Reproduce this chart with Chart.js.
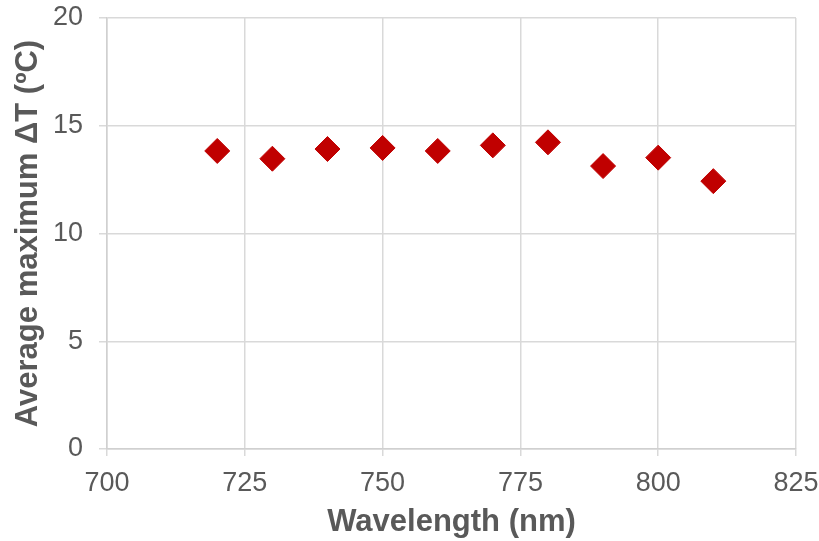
<!DOCTYPE html>
<html>
<head>
<meta charset="utf-8">
<script src="https://cdn.jsdelivr.net/npm/chart.js@4"></script>
<style>
  html, body { margin: 0; padding: 0; background: #fff; }
  #wrap { width: 819px; height: 541px; }
</style>
</head>
<body>
<div id="wrap"><canvas id="deltaChart"></canvas></div>
<script>
const wavelengths = [720, 730, 740, 750, 760, 770, 780, 790, 800, 810];
const maxDeltaT = [13.83, 13.47, 13.92, 13.97, 13.83, 14.09, 14.23, 13.13, 13.52, 12.43];

const xTitle = "Wavelength (nm)";
const yTitle = "Average maximum ΔT (ºC)";

const deltaChart = document.getElementById("deltaChart");

new Chart(deltaChart, {
  type: "scatter",
  data: {
    datasets: [
      {
        data: wavelengths.map((w, i) => ({ x: w, y: maxDeltaT[i] })),
        pointStyle: "rectRot",
        pointRadius: 12.5,
        pointHoverRadius: 12.5,
        backgroundColor: "#C00000",
        borderColor: "#C00000",
        borderWidth: 1,
      },
    ],
  },
  options: {
    responsive: true,
    maintainAspectRatio: false,
    animation: false,
    events: [],
    plugins: {
      legend: { display: false },
      tooltip: { enabled: false },
      title: { display: false },
    },
    layout: {
      padding: { left: 0, right: 23, top: 18, bottom: 0 },
    },
    scales: {
      x: {
        type: "linear",
        min: 700,
        max: 825,
        ticks: {
          stepSize: 25,
          color: "#595959",
          font: { family: "Liberation Sans", size: 27 },
          padding: 11,
        },
        grid: { color: "#D9D9D9", lineWidth: 1.5, tickLength: 7 },
        border: { color: "#D0D0D0", width: 1.5 },
        title: {
          display: true,
          text: xTitle,
          color: "#595959",
          font: { family: "Liberation Sans", size: 31, weight: "bold" },
          padding: { top: 0, bottom: 0 },
        },
        afterFit: (scale) => {
          scale.height = 92;
          scale.paddingLeft = 0;
          scale.paddingRight = 0;
        },
      },
      y: {
        min: 0,
        max: 20,
        ticks: {
          stepSize: 5,
          color: "#595959",
          font: { family: "Liberation Sans", size: 27 },
          padding: 16,
        },
        grid: { color: "#D9D9D9", lineWidth: 1.5, tickLength: 8 },
        border: { color: "#D0D0D0", width: 1.5 },
        title: {
          display: true,
          text: yTitle,
          color: "#595959",
          font: { family: "Liberation Sans", size: 31, weight: "bold" },
          padding: { top: 10, bottom: 0 },
        },
        afterFit: (scale) => {
          scale.width = 107;
          scale.paddingTop = 0;
          scale.paddingBottom = 0;
        },
      },
    },
  },
});
</script>
</body>
</html>
